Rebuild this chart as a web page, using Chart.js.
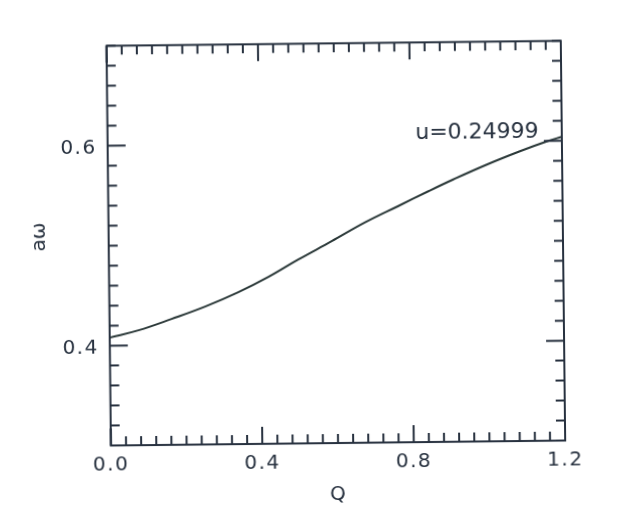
<!DOCTYPE html>
<html><head><meta charset="utf-8">
<script src="https://cdn.jsdelivr.net/npm/chart.js@4"></script>
<style>
html,body{margin:0;padding:0;background:#fff;overflow:hidden}
#wrap{width:623px;height:516px;position:relative;background:#fff}
canvas{display:block;transform:rotate(-0.63deg);transform-origin:335.85px 243.2px}
</style></head><body>
<div id="wrap"><canvas id="c" width="623" height="516"></canvas></div>
<script>
const qValues     = [0, 0.076, 0.164, 0.253, 0.341, 0.421, 0.500, 0.589, 0.678, 0.766, 0.846, 0.912, 1.001, 1.089, 1.160, 1.200];
const omegaValues = [0.408, 0.415, 0.426, 0.438, 0.452, 0.467, 0.484, 0.502, 0.5205, 0.5365, 0.551, 0.5625, 0.577, 0.590, 0.5995, 0.604];
const xMajorTicks = [0, 0.4, 0.8, 1.2];
const xTickLabels = ['0.0', '0.4', '0.8', '1.2'];
const yMajorTicks = [0.4, 0.6];
const yTickLabels = ['0.4', '0.6'];
const xMinorStep = 0.04;
const yMinorStep = 0.02;
const xRange = [0, 1.2];
const yRange = [0.3, 0.7];
const xTitle = 'Q';
const yTitle = 'aω';
const curveLabel = 'u=0.24999';
const curveLabelAt = [0.813, 0.603];

const INK = '#27313f';
const FONT = '"DejaVu Sans", sans-serif';

const framePlugin = {
  id: 'frame',
  beforeDraw(chart) {
    chart.ctx.letterSpacing = '1.5px';
  },
  afterDraw(chart) {
    const {ctx, chartArea: a, scales: {x, y}} = chart;
    ctx.save();
    ctx.letterSpacing = '0px';
    ctx.strokeStyle = INK;
    ctx.lineWidth = 2;
    ctx.beginPath();
    const nx = Math.round((xRange[1] - xRange[0]) / xMinorStep);
    for (let i = 0; i <= nx; i++) {
      const v = xRange[0] + i * xMinorStep;
      const major = xMajorTicks.some(m => Math.abs(m - v) < 1e-9);
      const L = major ? 17 : 9;
      const px = x.getPixelForValue(v);
      ctx.moveTo(px, a.bottom); ctx.lineTo(px, a.bottom - L);
      ctx.moveTo(px, a.top); ctx.lineTo(px, a.top + L);
    }
    const ny = Math.round((yRange[1] - yRange[0]) / yMinorStep);
    for (let i = 0; i <= ny; i++) {
      const v = yRange[0] + i * yMinorStep;
      const major = yMajorTicks.some(m => Math.abs(m - v) < 1e-9);
      const L = major ? 18 : 9;
      const py = y.getPixelForValue(v);
      ctx.moveTo(a.left, py); ctx.lineTo(a.left + L, py);
      ctx.moveTo(a.right, py); ctx.lineTo(a.right - L, py);
    }
    ctx.stroke();
    ctx.strokeRect(a.left, a.top, a.right - a.left, a.bottom - a.top);

    ctx.fillStyle = INK;
    // curve annotation
    ctx.font = '22px ' + FONT;
    ctx.textAlign = 'left';
    ctx.textBaseline = 'alphabetic';
    ctx.fillText(curveLabel, x.getPixelForValue(curveLabelAt[0]), y.getPixelForValue(curveLabelAt[1]));
    // y title
    ctx.font = '20px ' + FONT;
    ctx.translate(a.left - 68.7, (a.top + a.bottom) / 2 - 9.5);
    ctx.rotate(-Math.PI / 2);
    ctx.textAlign = 'center';
    ctx.textBaseline = 'middle';
    ctx.fillText(yTitle, 0, 0);
    ctx.restore();
  }
};

Chart.defaults.font.family = FONT;
Chart.defaults.color = INK;

new Chart(document.getElementById('c'), {
  type: 'line',
  data: {
    datasets: [{
      data: qValues.map((q, i) => ({x: q, y: omegaValues[i]})),
      borderColor: '#2a3838',
      borderWidth: 2,
      pointRadius: 0,
      fill: false,
      tension: 0.4
    }]
  },
  options: {
    responsive: false,
    animation: false,
    events: [],
    layout: {padding: {left: 0, top: 43.35, right: 60, bottom: 0}},
    plugins: {legend: {display: false}, tooltip: {enabled: false}},
    scales: {
      x: {
        type: 'linear',
        min: xRange[0], max: xRange[1],
        grid: {display: false, drawTicks: false},
        border: {display: false},
        afterBuildTicks: s => { s.ticks = xMajorTicks.map(v => ({value: v})); },
        afterFit: s => { s.height = 72.95; },
        ticks: {
          autoSkip: false, maxRotation: 0, padding: 8,
          font: {size: 20}, color: INK,
          callback: (v, i) => xTickLabels[i]
        },
        title: {display: true, text: xTitle, font: {size: 20}, color: INK, padding: {top: 0, bottom: 9}}
      },
      y: {
        type: 'linear',
        min: yRange[0], max: yRange[1],
        grid: {display: false, drawTicks: false},
        border: {display: false},
        afterBuildTicks: s => { s.ticks = yMajorTicks.map(v => ({value: v})); },
        afterFit: s => { s.width = 108.7; },
        ticks: {
          autoSkip: false, padding: 11, labelOffset: 2.5,
          font: {size: 20}, color: INK,
          callback: (v, i) => yTickLabels[i]
        },
        title: {display: false}
      }
    }
  },
  plugins: [framePlugin]
});
</script>
</body></html>
